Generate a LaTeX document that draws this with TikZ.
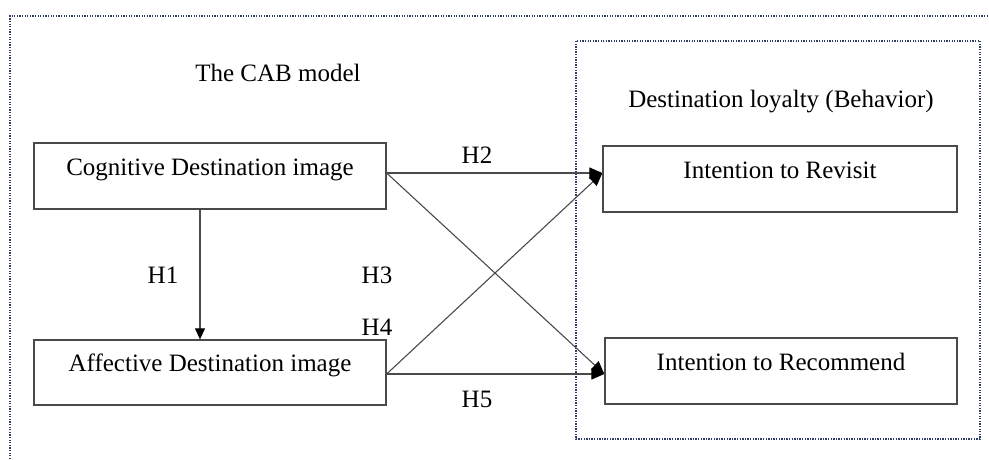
\documentclass[tikz,border=0pt]{standalone}
\usepackage{fontspec}
\setmainfont{Liberation Serif}
\usetikzlibrary{arrows.meta}

\definecolor{framenavy}{HTML}{2E3F6B}
\definecolor{linegray}{HTML}{4A4A4A}

\tikzset{
  box/.style={draw=linegray, line width=1.3pt, minimum height=66pt,
    inner sep=0pt, text height=18pt, text depth=20pt},
  arr/.style={draw=linegray, line width=1.1pt,
    -{Triangle[length=13pt,width=11pt,color=black]}},
  frame/.style={draw=framenavy, line width=1.6pt, dash pattern=on 1.3pt off 1.3pt}
}

\begin{document}
\begin{tikzpicture}[x=1pt,y=-1pt,font=\fontsize{25}{30}\selectfont]
		\useasboundingbox (0,0) rectangle (989,459);
		% dotted frames
		\draw[frame] (10,459)--(10,16)--(989,16);
		\draw[frame] (576,41) rectangle (980,439);
		\node at (278,73) {The CAB model};
		\node at (781,102) {Destination loyalty (Behavior)};
		% the four boxes
		\node[box, minimum width=352pt] (cog) at (210,176) {Cognitive Destination image};
		\node[box, minimum width=352pt, minimum height=65pt] (aff) at (210,372.5) {Affective Destination image};
		\node[box, minimum width=354pt] (rev) at (780,179) {Intention to Revisit};
		\node[box, minimum width=352pt] (rec) at (781,371) {Intention to Recommend};
		% hypotheses
		\draw[arr, -{Triangle[length=11pt,width=10pt,color=black]}] ([xshift=-10pt]cog.south)--([xshift=-10pt]aff.north);
		\draw[arr] ([yshift=3pt]cog.east)--([yshift=6pt]rev.west);
		\draw[arr] ([yshift=3pt]cog.east)--([yshift=-3pt]rec.west);
		\draw[arr] ([yshift=-1.5pt]aff.east)--([yshift=6pt]rev.west);
		\draw[arr] ([yshift=-1.5pt]aff.east)--([yshift=-3pt]rec.west);
		\node (h1) at (163,275) {H1};
		\node (h2) at (477,155) {H2};
		\node (h3) at (377,275) {H3};
		\node (h4) at (377,327) {H4};
		\node (h5) at (477,399) {H5};
\end{tikzpicture}
\end{document}
